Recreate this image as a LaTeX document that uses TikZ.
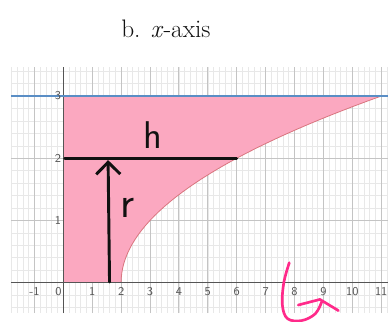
\documentclass[tikz,border=0pt]{standalone}
\usepackage{tikz}
\usetikzlibrary{arrows.meta,positioning}
\definecolor{ink}    {HTML}{111111}
\definecolor{rose}   {HTML}{FBA8C0}
\definecolor{roseln} {HTML}{D9757F}
\definecolor{level}  {HTML}{5A8EC5}
\definecolor{axisc}  {HTML}{555555}
\definecolor{majorc} {HTML}{C4C4C4}
\definecolor{minorc} {HTML}{E8E8E8}
\definecolor{magenta}{HTML}{FF2A8A}
\tikzset{
  % --- grid and axes
  minorg/.style = {draw=minorc, line width=0.4pt},
  majorg/.style = {draw=majorc, line width=0.6pt},
  axisl/.style  = {draw=axisc, line width=1.1pt},
  levell/.style = {draw=level, line width=1.5pt},
  region/.style = {fill=rose},
  bound/.style  = {draw=roseln, line width=0.6pt},
  % --- text
  ticklbl/.style = {font=\sffamily\small, text=axisc, inner sep=1.5pt},
  ttl/.style     = {font=\fontsize{19}{22}\selectfont, text=ink},
  hand/.style    = {font=\sffamily\fontsize{29}{30}\selectfont, text=ink, inner sep=0pt},
  % --- strokes
  pen/.style    = {draw=ink, line width=2.2pt, line cap=round},
  mpen/.style   = {draw=magenta, line width=2pt, line cap=round, line join=round},
}
\begin{document}
\begin{tikzpicture}[x=21.68pt, y=46.65pt]
  \useasboundingbox (-2.19,-0.632) rectangle (11.235,4.545);
  % grid
  \draw[minorg] (-1.81,-0.49) grid[step=0.2] (11.235,3.47);
  \draw[majorg] (-1.81,-0.49) grid[step=1] (11.235,3.47);
  % region between x=0 and x=y^2+2
  \fill[region] (0,0) -- plot[domain=0:3, samples=40, variable=\t] ({\t*\t+2},\t) -- (0,3) -- cycle;
  \draw[bound] plot[domain=0:3, samples=40, variable=\t] ({\t*\t+2},\t);
  % axes
  \draw[axisl] (-1.81,0) -- (11.235,0);
  \draw[axisl] (0,-0.49) -- (0,3.47);
  \draw[levell] (-1.81,3) -- (11.235,3);
  \foreach \k in {-1,1,2,...,11}
    \node[ticklbl] (x\k) at (\k,-0.14) {\k};
  \node[ticklbl] (x0) at (-0.17,-0.14) {0};
  \foreach \k in {1,2,3}
    \node[ticklbl, anchor=east] (y\k) at (0,\k) {\k};
  % title
  \node[ttl] (title) at (3.55,4.08) {b. \textit{x}-axis};
  % hand notes
  \coordinate (hl) at (0.05,2);
  \coordinate (hr) at (6,2);
  \draw[pen] (hl) -- (hr);
  \node[hand] (hh) at (3.11,2.37) {h};
  \coordinate (rb) at (1.6,0.01);
  \coordinate (rt) at (1.55,1.97);
  \draw[pen, -{Straight Barb[length=9pt, width=18pt]}] (rb) -- (rt);
  \node[hand, font=\sffamily\fontsize{33}{34}\selectfont] (rr) at (2.24,1.21) {r};
  % rotation mark
  \draw[mpen] plot[smooth, tension=0.6] coordinates {(7.82,0.32) (7.63,0.0) (7.58,-0.36) (7.76,-0.58) (8.25,-0.61) (8.72,-0.50) (8.95,-0.30)};
  \draw[mpen] (8.13,-0.36) -- (8.88,-0.27) -- (9.52,-0.45);
\end{tikzpicture}
\end{document}
